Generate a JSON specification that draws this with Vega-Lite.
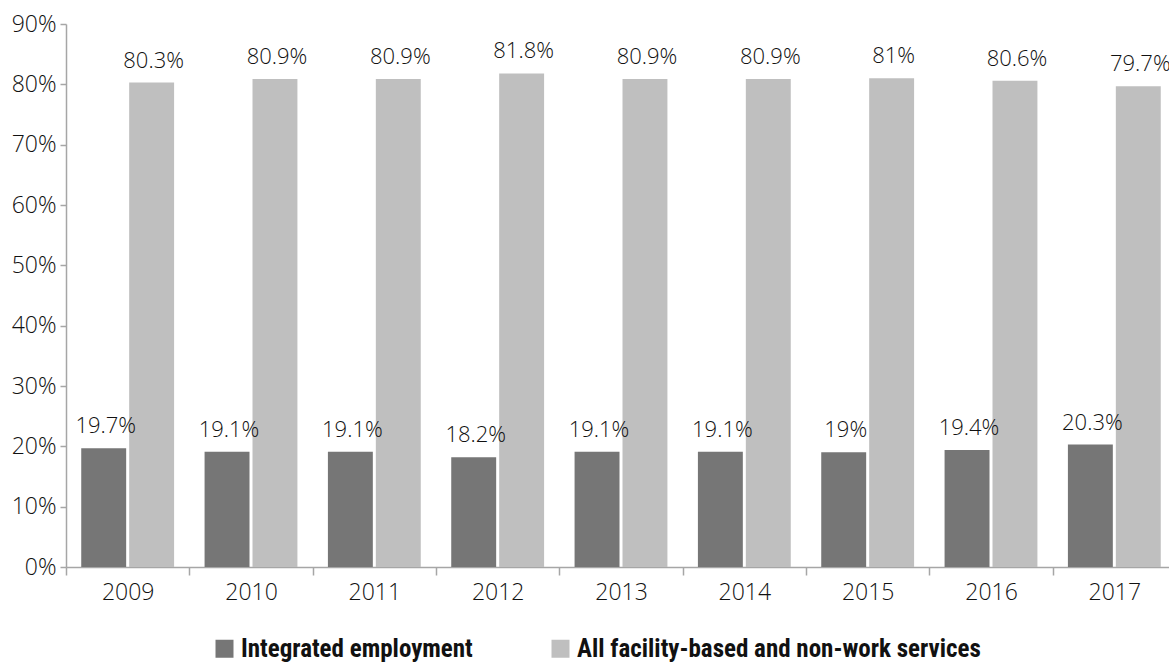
{
  "$schema": "https://vega.github.io/schema/vega-lite/v6.json",
  "width": 1110,
  "height": 543,
  "autosize": {"type": "none"},
  "padding": {"left": 66, "top": 24, "right": 0, "bottom": 104},
  "config": {
    "view": {"stroke": null},
    "font": "Open Sans, sans-serif"
  },
  "data": {
    "values": [
      {"year": "2009", "series": "Integrated employment", "value": 0.197},
      {"year": "2009", "series": "All facility-based and non-work services", "value": 0.803},
      {"year": "2010", "series": "Integrated employment", "value": 0.191},
      {"year": "2010", "series": "All facility-based and non-work services", "value": 0.809},
      {"year": "2011", "series": "Integrated employment", "value": 0.191},
      {"year": "2011", "series": "All facility-based and non-work services", "value": 0.809},
      {"year": "2012", "series": "Integrated employment", "value": 0.182},
      {"year": "2012", "series": "All facility-based and non-work services", "value": 0.818},
      {"year": "2013", "series": "Integrated employment", "value": 0.191},
      {"year": "2013", "series": "All facility-based and non-work services", "value": 0.809},
      {"year": "2014", "series": "Integrated employment", "value": 0.191},
      {"year": "2014", "series": "All facility-based and non-work services", "value": 0.809},
      {"year": "2015", "series": "Integrated employment", "value": 0.19},
      {"year": "2015", "series": "All facility-based and non-work services", "value": 0.81},
      {"year": "2016", "series": "Integrated employment", "value": 0.194},
      {"year": "2016", "series": "All facility-based and non-work services", "value": 0.806},
      {"year": "2017", "series": "Integrated employment", "value": 0.203},
      {"year": "2017", "series": "All facility-based and non-work services", "value": 0.797}
    ]
  },
  "encoding": {
    "x": {
      "field": "year",
      "type": "nominal",
      "scale": {"paddingInner": 0, "paddingOuter": 0},
      "axis": {
        "title": null,
        "labelAngle": 0,
        "tickBand": "extent",
        "domainColor": "#a6a6a6",
        "tickColor": "#a6a6a6",
        "domainWidth": 1.5,
        "tickWidth": 1.5,
        "tickSize": 8,
        "labelFont": "Open Sans",
        "labelFontWeight": 300,
        "labelFontSize": 23,
        "labelPadding": 6,
        "labelColor": "#111111"
      }
    },
    "xOffset": {
      "field": "series",
      "type": "nominal",
      "sort": ["Integrated employment", "All facility-based and non-work services"],
      "scale": {"paddingInner": 0.0625, "paddingOuter": 0.318}
    },
    "y": {
      "field": "value",
      "type": "quantitative",
      "scale": {"domain": [0, 0.9], "nice": false},
      "axis": {
        "title": null,
        "format": ".0%",
        "values": [0, 0.1, 0.2, 0.3, 0.4, 0.5, 0.6, 0.7, 0.8, 0.9],
        "grid": false,
        "domainColor": "#a6a6a6",
        "tickColor": "#a6a6a6",
        "domainWidth": 1.5,
        "tickWidth": 1.5,
        "tickSize": 6,
        "labelFont": "Open Sans",
        "labelFontWeight": 300,
        "labelFontSize": 23,
        "labelPadding": 4,
        "labelColor": "#111111"
      }
    }
  },
  "layer": [
    {
      "mark": {"type": "bar"},
      "encoding": {
        "color": {
          "field": "series",
          "type": "nominal",
          "sort": ["Integrated employment", "All facility-based and non-work services"],
          "scale": {"range": ["#767676", "#bfbfbf"]},
          "legend": {
            "title": null,
            "orient": "none",
            "direction": "horizontal",
            "legendX": 146,
            "legendY": 612,
            "padding": 0,
            "symbolType": "square",
            "symbolSize": 324,
            "symbolStrokeWidth": 0,
            "symbolOpacity": 1,
            "labelFont": "Roboto Condensed, Liberation Sans Narrow, sans-serif",
            "labelFontSize": 25,
            "labelFontWeight": "bold",
            "labelColor": "#111111",
            "labelOffset": 4,
            "labelLimit": 600,
            "columnPadding": 75
          }
        }
      }
    },
    {
      "mark": {"type": "text", "baseline": "alphabetic", "dy": -15, "dx": 2, "fontSize": 22, "fontWeight": 300, "font": "Open Sans", "color": "#111111"},
      "encoding": {
        "text": {"field": "value", "type": "quantitative", "format": ".1~%"}
      }
    }
  ]
}
